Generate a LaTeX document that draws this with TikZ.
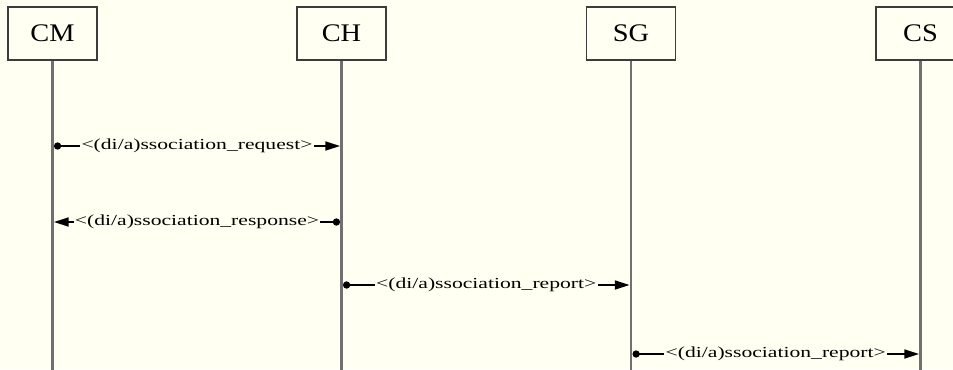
\documentclass[tikz,border=0pt]{standalone}
\usepackage{fontspec}
\usepackage{graphicx}
\setmainfont{Liberation Serif}
\usetikzlibrary{arrows.meta}

\definecolor{paper}{RGB}{255,255,242}
\definecolor{lifegray}{RGB}{112,112,112}
\definecolor{boxedge}{RGB}{60,60,60}

\tikzset{
  actor/.style={draw=boxedge, line width=1.1pt, fill=paper,
    minimum width=89*0.75pt, minimum height=53*0.75pt, inner sep=0pt,
    font=\fontsize{19pt}{21pt}\selectfont},
  lifeline/.style={draw=lifegray, line width=1.9pt},
  msg/.style={draw=black, line width=1.1pt,
    {Circle[length=5.4pt]}-{Triangle[length=11pt,width=6.8pt]}},
  msglabel/.style={fill=paper, inner xsep=1pt, inner ysep=0pt,
    font=\fontsize{11.5pt}{13pt}\selectfont},
}
\newcommand{\wide}[2]{\scalebox{#1}[1]{#2}}

\begin{document}
\begin{tikzpicture}[x=0.75pt, y=-0.75pt]
  % canvas
  \fill[paper] (0,0) rectangle (953,369);
  \useasboundingbox (0,0) rectangle (953,369);
  \clip (0,0) rectangle (953,369);

  % participants
  \node[actor] (CM) at (52.5,33.5)  {\wide{1.12}{CM}};
  \node[actor] (CH) at (341.5,33.5) {\wide{1.12}{CH}};
  \node[actor] (SG) at (631,33.5)   {\wide{1.12}{SG}};
  \node[actor] (CS) at (920.5,33.5) {\wide{1.12}{CS}};

  % lifeline ends
  \coordinate (CMend) at (52.5,372);
  \coordinate (CHend) at (341.5,372);
  \coordinate (SGend) at (631,372);
  \coordinate (CSend) at (920.5,372);

  \draw[lifeline] (CM.south) -- (CMend);
  \draw[lifeline] (CH.south) -- (CHend);
  \draw[lifeline] (SG.south) -- (SGend);
  \draw[lifeline] (CS.south) -- (CSend);

  % message anchor points on the lifelines
  \coordinate (r1a) at (54,146);  \coordinate (r1b) at (340,146);
  \coordinate (r2a) at (340,222); \coordinate (r2b) at (54,222);
  \coordinate (r3a) at (343,285); \coordinate (r3b) at (629.5,285);
  \coordinate (r4a) at (632.5,354); \coordinate (r4b) at (919,354);

  % messages
  \draw[msg] (r1a) -- node[msglabel] (l1) {\wide{1.41}{<(di/a)ssociation\_request>}} (r1b);
  \draw[msg] (r2a) -- node[msglabel] (l2) {\wide{1.41}{<(di/a)ssociation\_response>}} (r2b);
  \draw[msg] (r3a) -- node[msglabel] (l3) {\wide{1.41}{<(di/a)ssociation\_report>}} (r3b);
  \draw[msg] (r4a) -- node[msglabel] (l4) {\wide{1.41}{<(di/a)ssociation\_report>}} (r4b);
\end{tikzpicture}
\end{document}
